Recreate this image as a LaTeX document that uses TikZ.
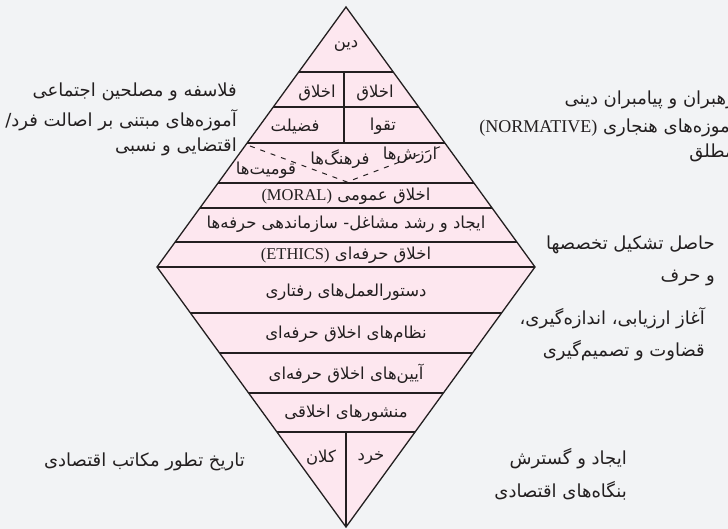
\documentclass[tikz,border=0pt]{standalone}
\usepackage{fontspec}
\setmainfont{Liberation Serif}
\newfontfamily\farsifont[Script=Arabic]{DejaVu Sans}
\TeXXeTstate=1
\definecolor{bgc}{HTML}{F2F3F5}
\definecolor{pinkc}{HTML}{FDE7EF}
\definecolor{ink}{HTML}{231F20}
\tikzset{
  seg/.style={draw=ink, line width=1.3pt},
  dashseg/.style={draw=ink, line width=1pt, dash pattern=on 5pt off 6pt},
  lbl/.style={inner sep=0pt, text=ink, font=\farsifont\fontsize{16.5}{18}\selectfont},
  side/.style={inner sep=0pt, text=ink, anchor=east, font=\farsifont\fontsize{18}{20}\selectfont},
}
\newcommand\latn[1]{{\rmfamily #1}}
\begin{document}
\begin{tikzpicture}[x=1pt,y=-1pt]
\useasboundingbox[fill=bgc] (0,0) rectangle (728,529);
\coordinate (T) at (346,7);
\coordinate (R) at (535,267);
\coordinate (B) at (346,527);
\coordinate (L) at (157,267);
\fill[pinkc] (T) -- (R) -- (B) -- (L) -- cycle;
\begin{scope}
  \clip (T) -- (R) -- (B) -- (L) -- cycle;
  \foreach \yy in {72,107,143,183,208,242,313,353,393,432}
    \draw[seg] (100,\yy) -- (600,\yy);
  \draw[seg] (344,72) -- (344,143);
  \draw[seg] (346,432) -- (346,540);
  \draw[dashseg] (250,146) -- (347,182) -- (442,146);
\end{scope}
\draw[seg] (L) -- (R);
\draw[seg, line join=miter] (T) -- (R) -- (B) -- (L) -- cycle;

% rows
\node[lbl] (din) at (346,46) {\beginR دین\endR};
\node[lbl] (akhl1) at (317,93) {\beginR اخلاق\endR};
\node[lbl] (akhl2) at (375,93) {\beginR اخلاق\endR};
\node[lbl] (fazilat) at (295,126) {\beginR فضیلت\endR};
\node[lbl] (taqva) at (383,126) {\beginR تقوا\endR};
\node[lbl] (arzesh) at (410,155) {\beginR ارزش‌ها\endR};
\node[lbl] (farhang) at (340,159) {\beginR فرهنگ‌ها\endR};
\node[lbl] (qowm) at (266,170) {\beginR قومیت‌ها\endR};
\node[lbl] (moral) at (346,196) {\latn{(MORAL)}\ \beginR اخلاق عمومی\endR};
\node[lbl] (ijad) at (346,224) {\beginR ایجاد و رشد مشاغل- سازماندهی حرفه‌ها\endR};
\node[lbl] (ethics) at (346,255) {\latn{(ETHICS)}\ \beginR اخلاق حرفه‌ای\endR};
\node[lbl] (dastur) at (346,292) {\beginR دستورالعمل‌های رفتاری\endR};
\node[lbl] (nezam) at (346,334) {\beginR نظام‌های اخلاق حرفه‌ای\endR};
\node[lbl] (aein) at (346,374) {\beginR آیین‌های اخلاق حرفه‌ای\endR};
\node[lbl] (manshur) at (346,413) {\beginR منشورهای اخلاقی\endR};
\node[lbl] (kalan) at (321,458) {\beginR کلان\endR};
\node[lbl] (khord) at (371,458) {\beginR خرد\endR};

% left texts
\node[side] (fal1) at (237,92) {\beginR فلاسفه و مصلحین اجتماعی\endR};
\node[side] (fal2) at (237,120) {\beginR آموزه‌های مبتنی بر اصالت فرد/\endR};
\node[side] (fal3) at (237,147) {\beginR اقتضایی و نسبی\endR};
\node[side] (tarikh) at (245,462) {\beginR تاریخ تطور مکاتب اقتصادی\endR};

% right texts
\node[side] (rah1) at (735,100) {\beginR رهبران و پیامبران دینی\endR};
\node[side] (rah2) at (735,126) {\latn{(NORMATIVE)}\ \beginR آموزه‌های هنجاری\endR};
\node[side] (rah3) at (735,153) {\beginR مطلق\endR};
\node[side] (has1) at (715,245) {\beginR حاصل تشکیل تخصصها\endR};
\node[side] (has2) at (715,278) {\beginR و حرف\endR};
\node[side] (agh1) at (705,318) {\beginR آغاز ارزیابی، اندازه‌گیری،\endR};
\node[side] (agh2) at (705,351) {\beginR قضاوت و تصمیم‌گیری\endR};
\node[side] (ij1) at (627,459) {\beginR ایجاد و گسترش\endR};
\node[side] (ij2) at (627,491) {\beginR بنگاه‌های اقتصادی\endR};
\end{tikzpicture}
\end{document}
